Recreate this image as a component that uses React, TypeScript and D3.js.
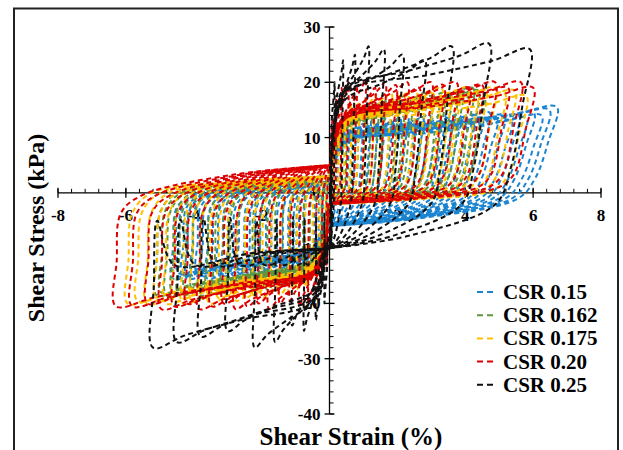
import React from 'react';
import * as d3 from 'd3';

// legend / series
const seriesNames = ['CSR 0.15', 'CSR 0.162', 'CSR 0.175', 'CSR 0.20', 'CSR 0.25'];
const seriesColors = ['#1b84d0', '#5e9640', '#ffc000', '#dc0000', '#111111'];

// peak shear strain (%) and peak shear stress (kPa) reached in every cycle
const strainPos015 = [0.12, 0.25, 0.4, 0.58, 0.78, 0.98, 1.2, 1.42, 1.63, 1.85, 2.08, 2.3, 2.52, 2.75, 2.96, 3.18, 3.4, 3.62, 3.85, 4.06, 4.28, 4.5, 4.72, 4.93, 5.15, 5.36, 5.58, 5.8, 6.02, 6.25, 6.48, 6.7];
const stressPos015 = [7, 9, 10.5, 11.5, 12, 12.5, 13, 12.5, 13.5, 13, 13.5, 14, 13, 13.5, 14, 13, 14, 13.5, 14, 13, 14, 13.5, 14.5, 13.5, 14, 13, 14, 13.5, 14.5, 14, 15, 15.5];
const strainNeg015 = [0.1, 0.2, 0.32, 0.45, 0.6, 0.75, 0.9, 1.06, 1.22, 1.38, 1.55, 1.72, 1.88, 2.05, 2.2, 2.36, 2.52, 2.68, 2.84, 3.0, 3.15, 3.3, 3.45, 3.6, 3.75, 3.9, 4.05, 4.2, 4.32, 4.45, 4.55, 4.62];
const stressNeg015 = [8, 10, 11.5, 12.5, 13, 13.5, 14, 14.5, 14, 15, 14.5, 15, 15.5, 14.5, 15, 15.5, 15, 14.5, 15, 15.5, 15, 14.5, 15, 15.5, 15, 14.5, 15, 15.5, 15, 14.5, 15, 15.5];

const strainPos0162 = [0.1, 0.22, 0.36, 0.52, 0.7, 0.88, 1.06, 1.25, 1.44, 1.63, 1.82, 2.02, 2.22, 2.42, 2.62, 2.82, 3.02, 3.2, 3.38, 3.56, 3.74, 3.9, 4.06, 4.22, 4.38, 4.55];
const stressPos0162 = [8, 11, 13, 14.5, 15, 15.5, 16, 16.5, 16, 17, 16.5, 17, 17.5, 16.5, 17, 18, 17.5, 17, 18, 17.5, 18, 18.5, 18, 19, 18.5, 18];
const strainNeg0162 = [0.1, 0.24, 0.4, 0.58, 0.78, 0.98, 1.18, 1.4, 1.62, 1.84, 2.06, 2.28, 2.5, 2.72, 2.94, 3.16, 3.38, 3.6, 3.82, 4.04, 4.24, 4.44, 4.62, 4.8, 4.96, 5.1];
const stressNeg0162 = [9, 12, 14, 15, 15.5, 16, 16.5, 17, 16.5, 17.5, 17, 17.5, 18, 17, 17.5, 18, 17.5, 18, 18.5, 17.5, 18, 18.5, 18, 18.5, 18, 18.5];

const strainPos0175 = [0.12, 0.28, 0.46, 0.66, 0.88, 1.1, 1.34, 1.58, 1.82, 2.06, 2.3, 2.55, 2.8, 3.05, 3.3, 3.56, 3.82, 4.08, 4.34, 4.6, 4.88, 5.16, 5.46, 5.8];
const stressPos0175 = [9, 12, 14.5, 16, 16.5, 17, 17.5, 17, 18, 17.5, 18, 18.5, 17.5, 18, 19, 18, 18.5, 19, 18, 18.5, 19, 18, 18.5, 17.5];
const strainNeg0175 = [0.12, 0.3, 0.5, 0.72, 0.96, 1.2, 1.46, 1.72, 1.98, 2.24, 2.5, 2.76, 3.02, 3.28, 3.54, 3.8, 4.06, 4.32, 4.58, 4.84, 5.1, 5.38, 5.66, 5.95];
const stressNeg0175 = [10, 13, 15.5, 17, 17.5, 18, 18.5, 18, 19, 18.5, 19, 19.5, 18.5, 19, 20, 19, 19.5, 20, 19.5, 20, 19.5, 20, 19.5, 20];

const strainPos020 = [0.08, 0.2, 0.36, 0.56, 0.8, 1.06, 1.34, 1.64, 1.96, 2.3, 2.64, 3.0, 3.36, 3.74, 4.12, 4.5, 4.88, 5.26, 5.64, 6.0];
const stressPos020 = [13, 17, 19, 20, 19.5, 20.5, 19, 20, 19.5, 20, 19, 20, 19.5, 20, 19, 19.5, 20, 19, 20, 19];
const strainNeg020 = [0.08, 0.22, 0.4, 0.62, 0.88, 1.16, 1.46, 1.78, 2.1, 2.44, 2.78, 3.12, 3.48, 3.84, 4.2, 4.58, 4.96, 5.36, 5.82, 6.3];
const stressNeg020 = [13, 17, 19, 20, 20.5, 19.5, 20, 21, 20, 20.5, 21, 20, 20.5, 21, 20, 20.5, 21, 20, 20.5, 20.5];

const strainPos025 = [0.15, 0.4, 0.75, 1.15, 1.6, 2.15, 2.8, 3.6, 4.7, 5.9];
const stressPos025 = [20, 24, 25, 26.5, 26, 25, 24, 26.5, 27, 26];
const strainNeg025 = [0.15, 0.4, 0.75, 1.1, 1.6, 2.2, 3.0, 3.8, 4.5, 5.2];
const stressNeg025 = [20, 23, 25, 24, 27, 28, 25, 26, 27, 28];

// stress (kPa) on the way back to zero strain after each excursion
const posReturnFoot = [-1, 0.5, 0.5, 1, -2];
const posReturnEnd = [-6, -2, -2, -2, -10];
const negReturnFoot = [-0.5, 0, 0, -0.5, -13];
const negReturnEnd = [2, 3, 3, 5, -10];

const strainPos = [strainPos015, strainPos0162, strainPos0175, strainPos020, strainPos025];
const stressPos = [stressPos015, stressPos0162, stressPos0175, stressPos020, stressPos025];
const strainNeg = [strainNeg015, strainNeg0162, strainNeg0175, strainNeg020, strainNeg025];
const stressNeg = [stressNeg015, stressNeg0162, stressNeg0175, stressNeg020, stressNeg025];

const xTicks = [-8, -6, -4, -2, 0, 2, 4, 6, 8];
const yTicks = [-40, -30, -20, -10, 0, 10, 20, 30];

const W = 623;
const H = 450;
const FONT = "'Liberation Serif', 'Times New Roman', serif";

const x = d3.scaleLinear().domain([-8, 8]).range([58, 601]);
const y = d3.scaleLinear().domain([-40, 30]).range([414, 27]);

// one half-cycle: steep rise, plateau to the peak, unload, flat return to zero strain
// positive side unloads along a slant, negative side along a rounded near-vertical edge
function halfCycle(g: number, t: number, start: number, foot: number, end: number, sign: number) {
  const s1 = Math.min(0.1, 0.3 * g);
  const s2 = Math.min(0.45, 0.5 * g);
  const dd = (sign > 0 ? 0.17 : 0.12) * g;
  const u1 = sign > 0 ? 0.22 : 0.04;
  const u2 = sign > 0 ? 0.55 : 0.2;
  const pts: [number, number][] = [
    [0.01, start],
    [s1, 0.4 * t],
    [s2, 0.7 * t],
    [s2 + (g - s2) * 0.45, 0.82 * t],
    [s2 + (g - s2) * 0.8, 0.92 * t],
    [g, t],
    [g - u1 * dd, 0.6 * t],
    [g - u2 * dd, 0.18 * t],
    [g - dd, foot * sign],
    [(g - dd) * 0.5, (foot + 0.7 * (end - foot)) * sign],
    [0.02, end * sign],
  ];
  return pts.map(([a, b]) => [a * sign, b * sign] as [number, number]);
}

function seriesPoints(i: number) {
  const pts: [number, number][] = [];
  const n = strainPos[i].length;
  for (let c = 0; c < n; c++) {
    pts.push(...halfCycle(strainPos[i][c], stressPos[i][c], negReturnEnd[i], posReturnFoot[i], posReturnEnd[i], 1));
    pts.push(...halfCycle(strainNeg[i][c], stressNeg[i][c], -posReturnEnd[i], negReturnFoot[i], negReturnEnd[i], -1));
  }
  return pts;
}

const line = d3
  .line<[number, number]>()
  .x((d) => x(d[0]))
  .y((d) => y(d[1]))
  .curve(d3.curveCatmullRom.alpha(0.5));

export default function App() {
  const x0 = x(0);
  const y0 = y(0);
  const xMinor = d3.range(-8, 8.001, 0.4);
  const yMinor = d3.range(-40, 30.001, 2);

  return (
    <div style={{ position: 'absolute', left: 0, top: 0 }}>
      <svg width={W} height={H} style={{ display: 'block', background: '#fff' }} fontFamily={FONT}>
        <rect x={14} y={8.5} width={604} height={470} fill="none" stroke="#222" strokeWidth={2} />

        {/* x axis */}
        <line x1={x(-8)} x2={x(8)} y1={y0} y2={y0} stroke="#000" strokeWidth={1.3} />
        {xMinor.map((v, i) => (
          <line key={'xm' + i} x1={x(v)} x2={x(v)} y1={y0 - 4} y2={y0} stroke="#000" strokeWidth={1} />
        ))}
        {xTicks.map((v) => (
          <g key={'xt' + v}>
            <line x1={x(v)} x2={x(v)} y1={y0 - 5} y2={y0 + 5} stroke="#000" strokeWidth={1.3} />
            <text x={x(v)} y={y0 + 28} textAnchor="middle" fontSize={17} fontWeight="bold">
              {v}
            </text>
          </g>
        ))}

        {/* y axis */}
        <line x1={x0} x2={x0} y1={y(-40)} y2={y(30)} stroke="#000" strokeWidth={1.3} />
        {yMinor.map((v, i) => (
          <line key={'ym' + i} x1={x0} x2={x0 + 4} y1={y(v)} y2={y(v)} stroke="#000" strokeWidth={1} />
        ))}
        {yTicks.map((v) => (
          <g key={'yt' + v}>
            <line x1={x0 - 5} x2={x0 + 5} y1={y(v)} y2={y(v)} stroke="#000" strokeWidth={1.3} />
            <text x={x0 - 9} y={y(v) + 6} textAnchor="end" fontSize={17} fontWeight="bold">
              {v}
            </text>
          </g>
        ))}

        {/* hysteresis loops */}
        {seriesNames.map((name, i) => (
          <path
            key={name}
            d={line(seriesPoints(i)) || ''}
            fill="none"
            stroke={seriesColors[i]}
            strokeWidth={2}
            strokeDasharray="5,3.5"
          />
        ))}

        {/* legend */}
        {seriesNames.map((name, i) => {
          const ly = 292 + i * 23.2;
          return (
            <g key={'lg' + name}>
              <line x1={477} x2={497} y1={ly} y2={ly} stroke={seriesColors[i]} strokeWidth={2} strokeDasharray="6,4" />
              <text x={503} y={ly + 7} fontSize={21} fontWeight="bold">
                {name}
              </text>
            </g>
          );
        })}

        {/* axis titles */}
        <text x={351} y={445} textAnchor="middle" fontSize={25} fontWeight="bold">
          Shear Strain (%)
        </text>
        <text transform="translate(44,228) rotate(-90)" textAnchor="middle" fontSize={24} fontWeight="bold">
          Shear Stress (kPa)
        </text>
      </svg>
    </div>
  );
}
